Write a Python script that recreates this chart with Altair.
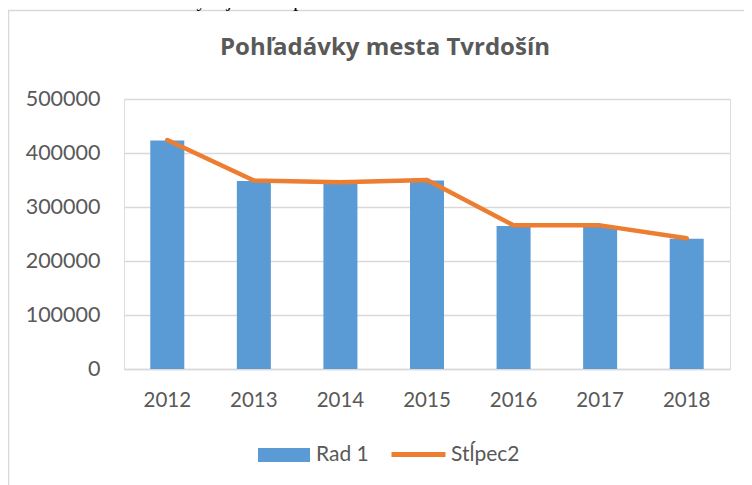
import altair as alt
import pandas as pd

years = ["2012", "2013", "2014", "2015", "2016", "2017", "2018"]
rad1 = [423000, 348000, 343000, 349000, 265000, 265000, 241000]
stlpec2 = [424000, 349000, 346000, 350000, 266000, 266000, 242000]
series_names = ["Rad 1", "Stĺpec2"]
y_ticks = [0, 100000, 200000, 300000, 400000, 500000]
title_text = "Pohľadávky mesta Tvrdošín"
header_text = "Grafické znázornenie vývoja stavu pohľadávok za obdobie 2012 – 2018"

GRAY_TXT = "#595959"
GRID = "#d9d9d9"
FONT = "Lato"

bars_df = pd.DataFrame({"year": years, "value": rad1, "series": series_names[0]})
line_df = pd.DataFrame({"year": years, "value": stlpec2, "series": series_names[1]})

x_enc = alt.X(
    "year:N",
    sort=years,
    scale=alt.Scale(paddingInner=0.607, paddingOuter=0.3035),
    axis=alt.Axis(
        title=None, labelAngle=0, labelFont=FONT, labelFontSize=20.5,
        labelColor=GRAY_TXT, labelPadding=21, ticks=False,
        domainColor=GRID, domainWidth=1.5, grid=False,
    ),
)
y_enc = alt.Y(
    "value:Q",
    scale=alt.Scale(domain=[0, 500000], nice=False),
    axis=alt.Axis(
        title=None, values=y_ticks, format="d", labelFont=FONT,
        labelFontSize=21.5, labelColor=GRAY_TXT, labelPadding=24,
        ticks=False, domain=False, grid=True, gridColor=GRID, gridWidth=1.5,
    ),
)

border = alt.Chart(alt.Data(values=[{}])).mark_rect(
    fill="transparent", stroke=GRID, strokeWidth=1.5
).encode(
    x=alt.value(-115.5), y=alt.value(-88.5), x2=alt.value(900), y2=alt.value(600)
)

header = alt.Chart(alt.Data(values=[{"t": header_text}])).mark_text(
    font="Liberation Serif", fontSize=20, color="#000000", align="left",
    baseline="alphabetic",
).encode(text="t:N", x=alt.value(-114), y=alt.value(-93))

title = alt.Chart(alt.Data(values=[{"t": title_text}])).mark_text(
    font="Open Sans", fontSize=24, fontWeight="bold", color=GRAY_TXT,
    align="center", baseline="alphabetic",
).encode(text="t:N", x=alt.value(261), y=alt.value(-44))

bars = alt.Chart(bars_df).mark_bar().encode(
    x=x_enc,
    y=y_enc,
    color=alt.Color(
        "series:N",
        scale=alt.Scale(domain=[series_names[0]], range=["#5b9bd5"]),
        legend=alt.Legend(
            title=None, orient="none", legendX=134, legendY=330, padding=0,
            symbolType="M-1,-0.27H1V0.27H-1Z", symbolSize=2704,
            symbolStrokeWidth=0, labelOffset=6, labelFont=FONT,
            labelFontSize=21, labelColor=GRAY_TXT,
        ),
    ),
)

line = alt.Chart(line_df).mark_line(
    strokeWidth=4.5, strokeCap="round", strokeJoin="round"
).encode(
    x=alt.X("year:N", sort=years),
    y="value:Q",
    stroke=alt.Stroke(
        "series:N",
        scale=alt.Scale(domain=[series_names[1]], range=["#ed7d31"]),
        legend=alt.Legend(
            title=None, orient="none", legendX=265, legendY=326, padding=0,
            symbolType="stroke", symbolSize=2916, symbolStrokeWidth=5,
            labelOffset=3, labelFont=FONT, labelFontSize=21,
            labelColor=GRAY_TXT,
        ),
    ),
)

chart = alt.layer(border, header, title, bars, line).resolve_scale(
    color="independent", stroke="independent"
).properties(
    width=606,
    height=270,
    autosize=alt.AutoSizeParams(type="none"),
    padding={"left": 116, "top": 91, "right": 14, "bottom": 116},
).configure_view(stroke=None).configure(background="white")

chart.save("out.html", embed_options={"renderer": "svg", "actions": False})
